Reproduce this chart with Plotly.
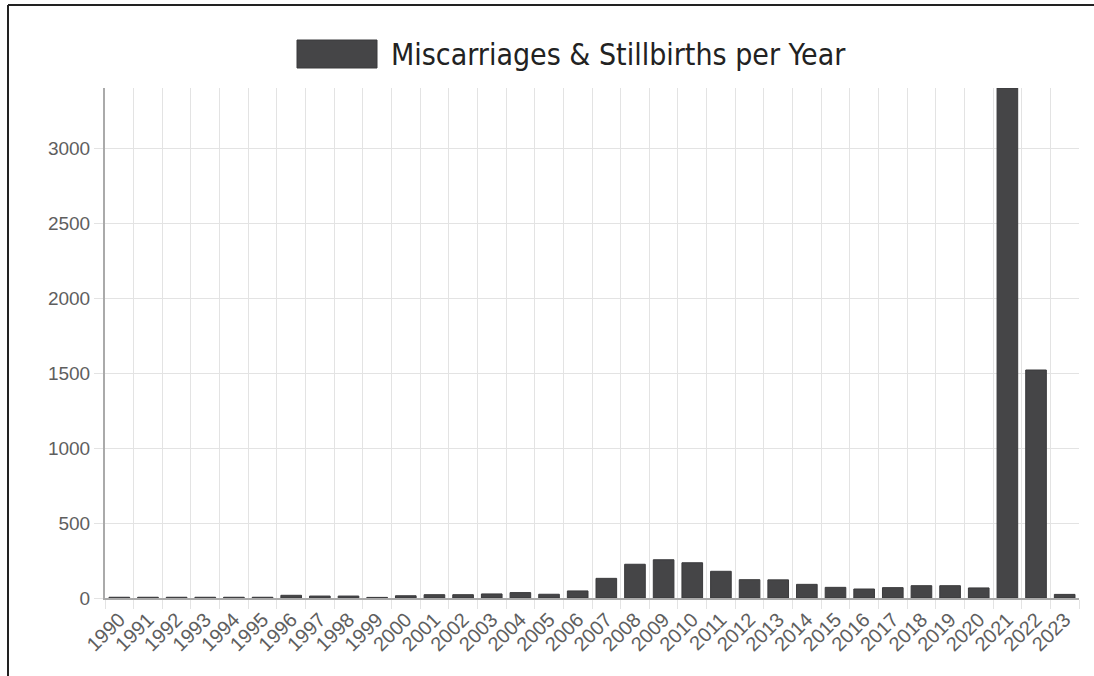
import plotly.graph_objects as go

years = [str(y) for y in range(1990, 2024)]
counts = [5, 5, 5, 5, 5, 5, 18, 13, 13, 4, 15, 22, 22, 27, 36, 25, 47,
          131, 225, 255, 235, 178, 122, 121, 91, 71, 60, 69, 82, 82, 67,
          3400, 1520, 24]
series_name = "Miscarriages & Stillbirths per Year"
y_ticks = [0, 500, 1000, 1500, 2000, 2500, 3000]

W, H = 1094, 676
L, R, T, B = 105, 15, 88, 78
pw, ph = W - L - R, H - T - B


def px(x):
    return (x - L) / pw


def py(y):
    return (H - B - y) / ph


fig = go.Figure()
fig.add_trace(go.Bar(
    x=years, y=counts, name=series_name,
    marker=dict(color="#454547", line=dict(color="#3a3a3c", width=1)),
    showlegend=False,
))

y_font = dict(family="Liberation Sans, Arial, sans-serif", size=19, color="#5e5e5e")
x_font = dict(family="Liberation Sans, Arial, sans-serif", size=20, color="#5e5e5e")

fig.update_layout(
    width=W, height=H,
    margin=dict(l=L, r=R, t=T, b=B, pad=0),
    paper_bgcolor="white", plot_bgcolor="white",
    bargap=0.28,
    xaxis=dict(
        type="category", tickson="boundaries", tickangle=-45,
        showgrid=True, gridcolor="#e3e3e3", gridwidth=1,
        ticks="outside", ticklen=9, tickcolor="#e3e3e3",
        showline=True, linecolor="#aaaaaa", linewidth=2,
        tickfont=x_font,
    ),
    yaxis=dict(
        range=[0, 3400], tickvals=y_ticks,
        showgrid=True, gridcolor="#e3e3e3", gridwidth=1,
        ticks="outside", ticklen=9, tickcolor="#e3e3e3",
        showline=True, linecolor="#aaaaaa", linewidth=2,
        zeroline=False, tickfont=y_font,
    ),
    shapes=[
        dict(type="rect", xref="paper", yref="paper",
             x0=px(297), x1=px(377), y0=py(68), y1=py(40),
             fillcolor="#454547", line=dict(color="#3a3a3c", width=1)),
        dict(type="line", xref="paper", yref="paper",
             x0=px(8), x1=px(W), y0=py(5), y1=py(5),
             line=dict(color="#222222", width=2)),
        dict(type="line", xref="paper", yref="paper",
             x0=px(8), x1=px(8), y0=py(5), y1=py(H),
             line=dict(color="#222222", width=2)),
    ],
    annotations=[
        dict(xref="paper", yref="paper", x=px(389), y=py(54),
             xanchor="left", yanchor="middle", showarrow=False,
             text=series_name,
             font=dict(family="Liberation Sans Narrow, Arial Narrow, DejaVu Sans Condensed, sans-serif",
                       size=30, color="#222222")),
    ],
)

fig.write_html("out.html",
               config={"displayModeBar": False},
               post_script="document.body.style.margin='0';document.body.style.overflow='hidden';")
